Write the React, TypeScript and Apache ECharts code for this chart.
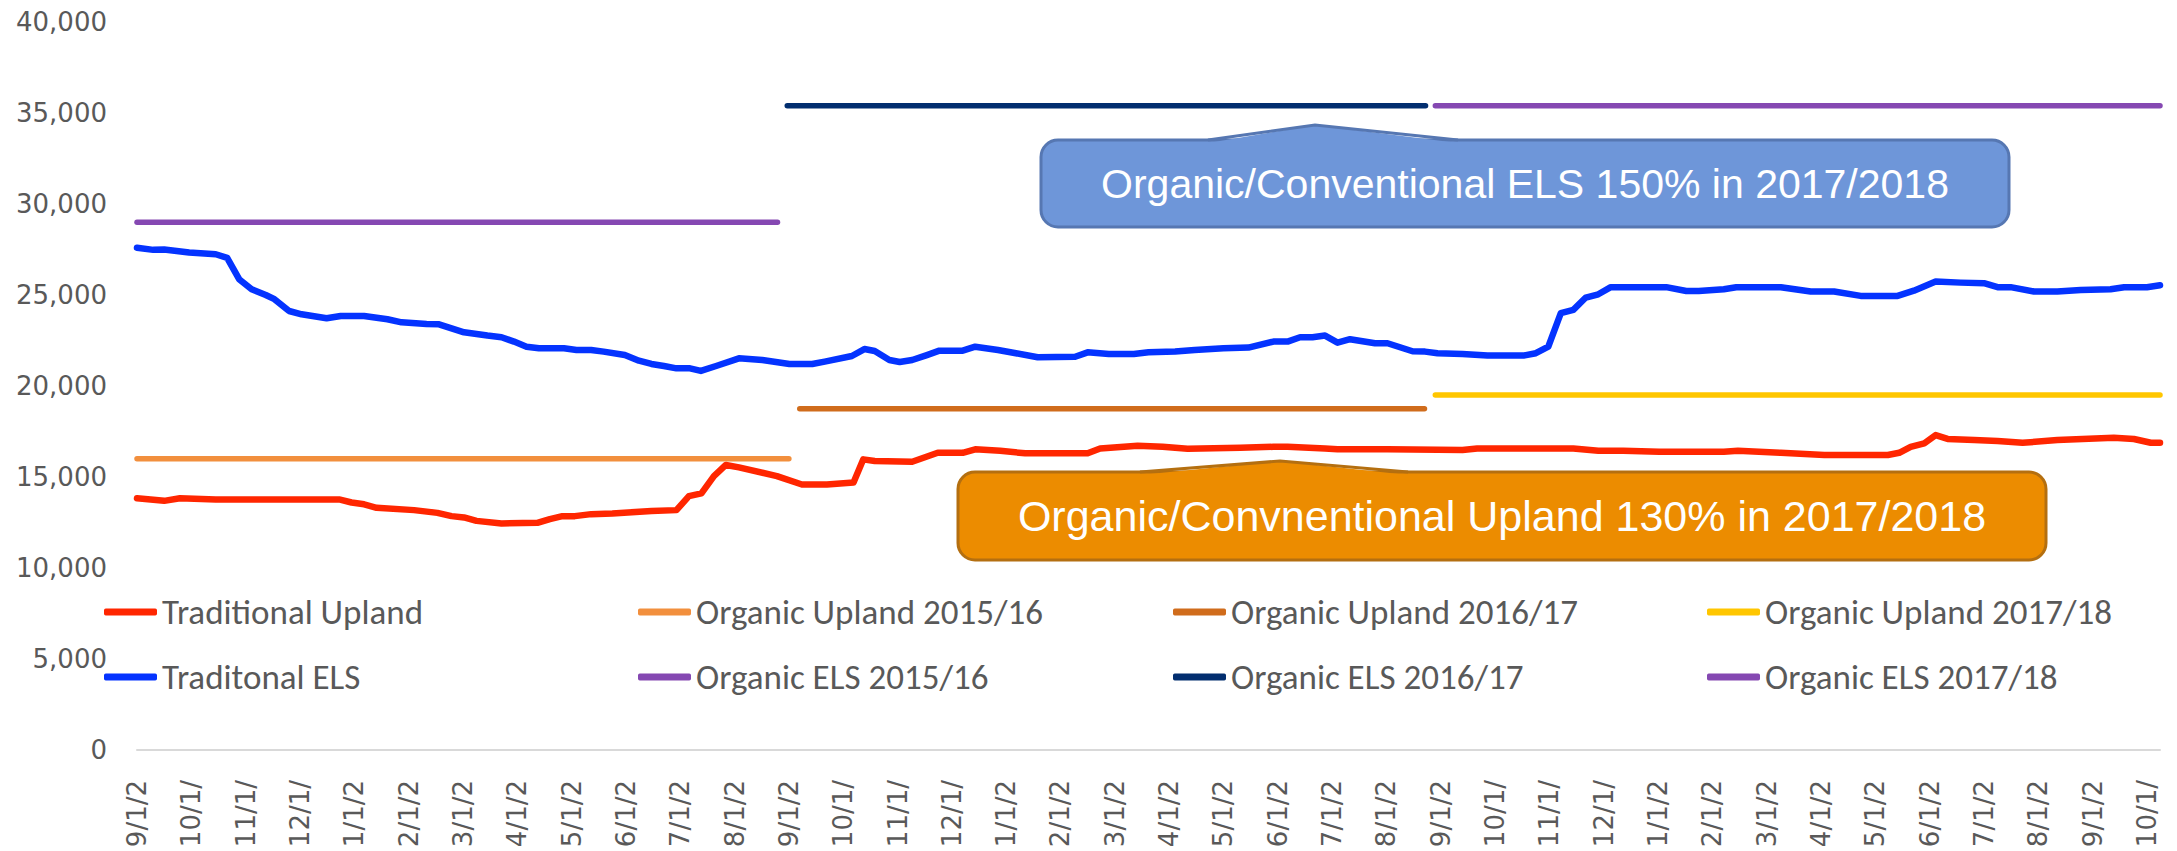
import React, { useEffect, useRef } from "react";
import * as echarts from "echarts";

// x positions are in months since 9/1/2015
const xTickLabels = [
  "9/1/2", "10/1/", "11/1/", "12/1/", "1/1/2", "2/1/2", "3/1/2", "4/1/2", "5/1/2", "6/1/2", "7/1/2", "8/1/2",
  "9/1/2", "10/1/", "11/1/", "12/1/", "1/1/2", "2/1/2", "3/1/2", "4/1/2", "5/1/2", "6/1/2", "7/1/2", "8/1/2",
  "9/1/2", "10/1/", "11/1/", "12/1/", "1/1/2", "2/1/2", "3/1/2", "4/1/2", "5/1/2", "6/1/2", "7/1/2", "8/1/2",
  "9/1/2", "10/1/",
];
const yTicks = [0, 5000, 10000, 15000, 20000, 25000, 30000, 35000, 40000];

const uplandX = [
  0.0, 0.5, 0.79, 1.45, 3.72, 3.95, 4.18, 4.41, 5.1, 5.53, 5.79, 6.02, 6.25, 6.71, 7.37, 7.6, 7.83, 8.06, 8.36,
  8.75, 9.47, 9.93, 10.16, 10.39, 10.62, 10.84, 11.08, 11.78, 12.24, 12.7, 13.19, 13.37, 13.58, 14.27, 14.74,
  15.2, 15.43, 15.89, 16.35, 17.5, 17.73, 18.42, 18.88, 19.34, 20.31, 20.92, 21.18, 21.87, 22.1, 23.02, 24.4,
  24.67, 26.44, 26.9, 27.36, 28.02, 29.21, 29.47, 30.26, 31.06, 32.23, 32.44, 32.65, 32.9, 33.11, 33.33, 33.82,
  34.25, 34.71, 35.35, 36.39, 36.76, 37.07, 37.24,
];
const uplandY = [
  13830, 13690, 13830, 13770, 13770, 13600, 13500, 13310, 13180, 13030, 12850, 12780, 12590, 12450, 12480, 12690,
  12850, 12850, 12960, 13000, 13130, 13180, 13950, 14100, 15050, 15660, 15530, 15050, 14590, 14590, 14700, 15970,
  15880, 15840, 16330, 16330, 16520, 16440, 16300, 16300, 16570, 16720, 16660, 16550, 16610, 16660, 16660, 16570,
  16520, 16520, 16480, 16570, 16570, 16440, 16440, 16390, 16390, 16440, 16330, 16210, 16210, 16330, 16660, 16850,
  17300, 17090, 17030, 16980, 16880, 17030, 17160, 17090, 16880, 16880,
];

const elsX = [
  0.0, 0.3, 0.5, 0.96, 1.45, 1.66, 1.88, 2.11, 2.37, 2.53, 2.8, 3.03, 3.49, 3.75, 4.18, 4.61, 4.87, 5.33, 5.56,
  5.79, 6.02, 6.45, 6.71, 6.94, 7.17, 7.4, 7.86, 8.09, 8.36, 8.59, 8.98, 9.24, 9.47, 9.7, 9.93, 10.18, 10.38,
  10.66, 11.08, 11.51, 12.01, 12.43, 12.66, 13.16, 13.39, 13.58, 13.85, 14.04, 14.27, 14.54, 14.77, 15.2, 15.43,
  15.85, 16.18, 16.58, 17.27, 17.5, 17.89, 18.35, 18.62, 19.11, 19.47, 20.0, 20.46, 20.92, 21.18, 21.41, 21.64,
  21.87, 22.1, 22.33, 22.79, 23.02, 23.48, 23.71, 23.94, 24.4, 24.86, 25.52, 25.75, 25.98, 26.21, 26.44, 26.67,
  26.9, 27.13, 27.63, 28.15, 28.52, 28.75, 29.21, 29.44, 30.26, 30.81, 31.24, 31.73, 32.41, 32.71, 33.11, 33.57,
  34.0, 34.25, 34.49, 34.92, 35.35, 35.78, 36.33, 36.58, 37.0, 37.24,
];
const elsY = [
  27600, 27480, 27500, 27330, 27240, 27040, 25870, 25320, 25000, 24770, 24120, 23940, 23720, 23850, 23850, 23670,
  23500, 23410, 23390, 23170, 22950, 22770, 22680, 22440, 22160, 22070, 22070, 21980, 21980, 21890, 21700, 21390,
  21210, 21100, 20970, 20970, 20830, 21100, 21520, 21430, 21210, 21210, 21340, 21650, 22030, 21920, 21430, 21320,
  21430, 21700, 21940, 21940, 22160, 21980, 21800, 21580, 21610, 21850, 21760, 21760, 21850, 21890, 21980, 22070,
  22110, 22440, 22440, 22680, 22680, 22770, 22380, 22570, 22350, 22350, 21910, 21890, 21800, 21760, 21670, 21670,
  21800, 22160, 24000, 24180, 24860, 25040, 25430, 25430, 25430, 25220, 25220, 25320, 25430, 25430, 25190, 25190,
  24950, 24950, 25240, 25740, 25680, 25650, 25430, 25430, 25190, 25190, 25280, 25320, 25430, 25430, 25540,
];

const organicNames = [
  "Organic Upland 2015/16", "Organic Upland 2016/17", "Organic Upland 2017/18",
  "Organic ELS 2015/16", "Organic ELS 2016/17", "Organic ELS 2017/18",
];
const organicStart = [0, 12.2, 23.9, 0, 11.97, 23.9];
const organicEnd = [12.0, 23.7, 37.24, 11.79, 23.72, 37.24];
const organicValue = [16000, 18750, 19500, 29000, 35400, 35400];
const organicColors = ["#F28F3D", "#D06C1C", "#FFC600", "#8548B2", "#022E6F", "#8548B2"];

const legendRows = [
  ["Traditional Upland", "Organic Upland 2015/16", "Organic Upland 2016/17", "Organic Upland 2017/18"],
  ["Traditonal ELS", "Organic ELS 2015/16", "Organic ELS 2016/17", "Organic ELS 2017/18"],
];

const calloutELS = "Organic/Conventional ELS 150% in 2017/2018";
const calloutUpland = "Organic/Convnentional Upland 130% in 2017/2018";

const LEGEND_FONT = "Carlito, Calibri, 'Liberation Sans Narrow', 'DejaVu Sans Condensed', 'Open Sans', sans-serif";
const AXIS_FONT = "'DejaVu Sans', Verdana, sans-serif";
const CALLOUT_FONT = "'Liberation Sans', Arial, Helvetica, sans-serif";

function callout(
  box: { x: number; y: number; w: number; h: number },
  ptr: { l: number; ax: number; ay: number; r: number },
  fill: string,
  stroke: string,
  text: string,
  fontSize: number
) {
  return {
    type: "group",
    children: [
      {
        type: "rect",
        shape: { x: box.x, y: box.y, width: box.w, height: box.h, r: 17 },
        style: { fill, stroke, lineWidth: 3 },
        z: 10,
      },
      {
        type: "polygon",
        shape: { points: [[ptr.l, box.y + 3], [ptr.ax, ptr.ay], [ptr.r, box.y + 3]] },
        style: { fill },
        z: 11,
      },
      {
        type: "polyline",
        shape: { points: [[ptr.l, box.y], [ptr.ax, ptr.ay], [ptr.r, box.y]] },
        style: { stroke, lineWidth: 3, fill: "none" },
        z: 12,
      },
      {
        type: "text",
        x: box.x + box.w / 2,
        y: box.y + box.h / 2,
        style: {
          text,
          fill: "#ffffff",
          fontSize,
          fontFamily: CALLOUT_FONT,
          align: "center",
          verticalAlign: "middle",
        },
        z: 13,
      },
    ],
  };
}

export default function App() {
  const ref = useRef<HTMLDivElement>(null);

  useEffect(() => {
    document.body.style.margin = "0";
    if (!ref.current) return;
    const chart = echarts.init(ref.current, undefined, { renderer: "svg" });

    const series: any[] = [];
    organicNames.forEach((name, i) => {
      series.push({
        name,
        type: "line",
        data: [
          [organicStart[i], organicValue[i]],
          [organicEnd[i], organicValue[i]],
        ],
        symbol: "none",
        lineStyle: { color: organicColors[i], width: 5.5, cap: "round" },
        itemStyle: { color: organicColors[i] },
        z: 2,
      });
    });
    series.push({
      name: "Traditional Upland",
      type: "line",
      data: uplandX.map((x, i) => [x, uplandY[i]]),
      symbol: "none",
      lineStyle: { color: "#FF2600", width: 6.5, cap: "round", join: "round" },
      itemStyle: { color: "#FF2600" },
      z: 3,
    });
    series.push({
      name: "Traditonal ELS",
      type: "line",
      data: elsX.map((x, i) => [x, elsY[i]]),
      symbol: "none",
      lineStyle: { color: "#0433FF", width: 6.5, cap: "round", join: "round" },
      itemStyle: { color: "#0433FF" },
      z: 3,
    });

    const legendCols = [104, 638, 1173, 1707];
    const legendTops = [591, 656];
    const legends: any[] = [];
    legendRows.forEach((row, r) => {
      row.forEach((name, c) => {
        legends.push({
          left: legendCols[c],
          top: legendTops[r],
          padding: 0,
          orient: "horizontal",
          itemWidth: 53,
          itemHeight: 7,
          icon: "roundRect",
          selectedMode: false,
          data: [name],
          textStyle: { fontFamily: LEGEND_FONT, fontSize: 35, color: "#595959", lineHeight: 42 },
        });
      });
    });

    chart.setOption({
      animation: false,
      backgroundColor: "#ffffff",
      grid: { left: 137, right: 17, top: 22, bottom: 101, containLabel: false },
      xAxis: {
        type: "value",
        min: 0,
        max: 37.24,
        interval: 1,
        splitLine: { show: false },
        axisTick: { show: false },
        axisLine: { show: true, lineStyle: { color: "#D9D9D9", width: 2 } },
        axisLabel: {
          rotate: 90,
          margin: 30,
          color: "#595959",
          fontFamily: AXIS_FONT,
          fontSize: 26,
          showMinLabel: true,
          showMaxLabel: true,
          formatter: (v: number) => {
            const k = Math.round(v);
            return Math.abs(v - k) < 1e-6 && xTickLabels[k] !== undefined ? xTickLabels[k] : "";
          },
        },
      },
      yAxis: {
        type: "value",
        min: yTicks[0],
        max: yTicks[yTicks.length - 1],
        interval: 5000,
        splitLine: { show: false },
        axisTick: { show: false },
        axisLine: { show: false },
        axisLabel: {
          margin: 30,
          color: "#595959",
          fontFamily: AXIS_FONT,
          fontSize: 26,
          formatter: (v: number) => v.toLocaleString("en-US"),
        },
      },
      legend: legends,
      series,
      graphic: [
        callout(
          { x: 1041, y: 140, w: 968, h: 87 },
          { l: 1208, ax: 1315, ay: 125, r: 1458 },
          "#6E96D9",
          "#5677B2",
          calloutELS,
          41
        ),
        callout(
          { x: 958, y: 472, w: 1088, h: 88 },
          { l: 1140, ax: 1280, ay: 461, r: 1408 },
          "#EC8C00",
          "#B46F10",
          calloutUpland,
          43
        ),
      ],
    });

    return () => chart.dispose();
  }, []);

  return (
    <div
      ref={ref}
      style={{ position: "absolute", left: 0, top: 0, width: 2177, height: 851 }}
    />
  );
}
